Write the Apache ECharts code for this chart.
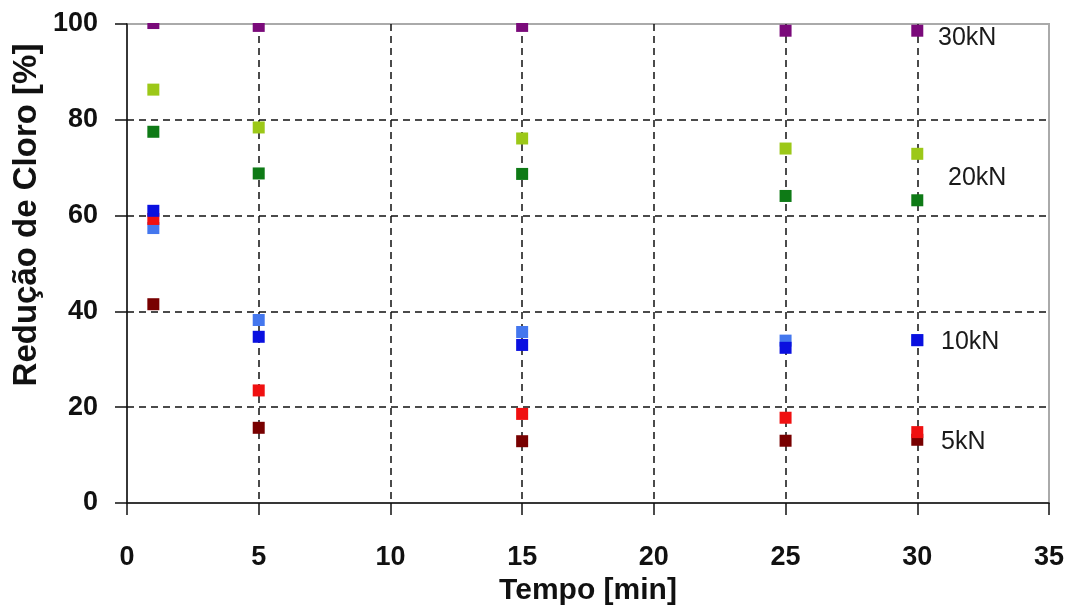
<!DOCTYPE html>
<html>
<head>
<meta charset="utf-8">
<script src="https://cdn.jsdelivr.net/npm/echarts@6/dist/echarts.min.js"></script>
<style>
html,body{margin:0;padding:0;background:#fff;}
#chart{width:1074px;height:614px;}
</style>
</head>
<body>
<div id="chart"></div>
<script>
// Data
const xValues = [1, 5, 15, 25, 30];
const xTicks = [0, 5, 10, 15, 20, 25, 30, 35];
const yTicks = [0, 20, 40, 60, 80, 100];
const s30kN = [100.2, 99.6, 99.6, 98.6, 98.6];        // purple
const s20kN_a = [86.3, 78.4, 76.1, 74.0, 72.9];       // yellow-green
const s20kN_b = [77.5, 68.8, 68.7, 64.1, 63.2];       // dark green
const s10kN_a = [61.0, 34.7, 33.0, 32.4, 34.0];       // blue
const s10kN_b = [57.4, 38.2, 35.7, 33.9, 34.0];       // light blue
const s5kN_a = [59.3, 23.5, 18.6, 17.8, 14.8];        // red
const s5kN_b = [41.5, 15.7, 12.9, 13.0, 13.2];        // dark red
const seriesLabels = ['30kN', '20kN', '10kN', '5kN'];
const yName = 'Redução de Cloro [%]';
const xName = 'Tempo [min]';

function pts(vals) { return xValues.map((x, i) => [x, vals[i]]); }

const chart = echarts.init(document.getElementById('chart'));
const FF = 'Liberation Sans, Arial, sans-serif';
const mk = (name, vals, color) => ({
  name, type: 'scatter', data: pts(vals), symbol: 'rect', symbolSize: 12,
  itemStyle: { color: color, opacity: 1 }, clip: false
});
const labelFont = { fontFamily: FF, fontSize: 25, fill: '#1a1a1a' };
chart.setOption({
  animation: false,
  backgroundColor: '#fff',
  grid: { left: 127, top: 24, right: 25, bottom: 111, show: true, borderColor: '#aaa', borderWidth: 2,
    containLabel: false, outerBoundsMode: 'none' },
  xAxis: {
    type: 'value', min: 0, max: 35, interval: 5,
    name: xName, nameLocation: 'middle', nameGap: 72,
    nameTextStyle: { fontFamily: FF, fontSize: 30, fontWeight: 'bold', color: '#111' },
    axisLine: { lineStyle: { color: '#111', width: 1.5 } },
    axisTick: { show: true, inside: false, length: 12, lineStyle: { color: '#111', width: 1.5 } },
    axisLabel: { margin: 41, fontFamily: FF, fontSize: 27, fontWeight: 'bold', color: '#111',
      formatter: v => xTicks.includes(v) ? String(v) : '' },
    splitLine: { show: true, showMinLine: false, showMaxLine: false, lineStyle: { color: '#111', width: 1.5, type: [7, 5] } }
  },
  yAxis: {
    type: 'value', min: 0, max: 100, interval: 20,
    axisLine: { show: true, lineStyle: { color: '#111', width: 1.5 } },
    axisTick: { show: true, inside: false, length: 12, lineStyle: { color: '#111', width: 1.5 } },
    axisLabel: { margin: 29, fontFamily: FF, fontSize: 27, fontWeight: 'bold', color: '#111',
      formatter: v => yTicks.includes(v) ? String(v) : '' },
    splitLine: { show: true, showMinLine: false, showMaxLine: false, lineStyle: { color: '#111', width: 1.5, type: [7, 5] } }
  },
  series: [
    mk('5kN b', s5kN_b, '#780000'),
    mk('10kN b', s10kN_b, '#4477ee'),
    mk('5kN a', s5kN_a, '#f01010'),
    mk('10kN a', s10kN_a, '#0a10e0'),
    mk('20kN b', s20kN_b, '#0e7a16'),
    mk('20kN a', s20kN_a, '#9cc818'),
    mk('30kN', s30kN, '#7a0a7a')
  ],
  graphic: [
    { type: 'rect', z: 100, shape: { x: 120, y: 0, width: 954, height: 23 }, style: { fill: '#fff' } },
    { type: 'text', z: 101, x: 27, y: 215, rotation: Math.PI / 2,
      style: { text: yName, fontFamily: FF, fontSize: 33, fontWeight: 'bold', fill: '#111', align: 'center', verticalAlign: 'middle' } },
    { type: 'text', z: 101, left: 938, top: 26, style: Object.assign({ text: seriesLabels[0] }, labelFont) },
    { type: 'text', z: 101, left: 948, top: 166, style: Object.assign({ text: seriesLabels[1] }, labelFont) },
    { type: 'text', z: 101, left: 941, top: 330, style: Object.assign({ text: seriesLabels[2] }, labelFont) },
    { type: 'text', z: 101, left: 941, top: 430, style: Object.assign({ text: seriesLabels[3] }, labelFont) }
  ]
});
</script>
</body>
</html>
